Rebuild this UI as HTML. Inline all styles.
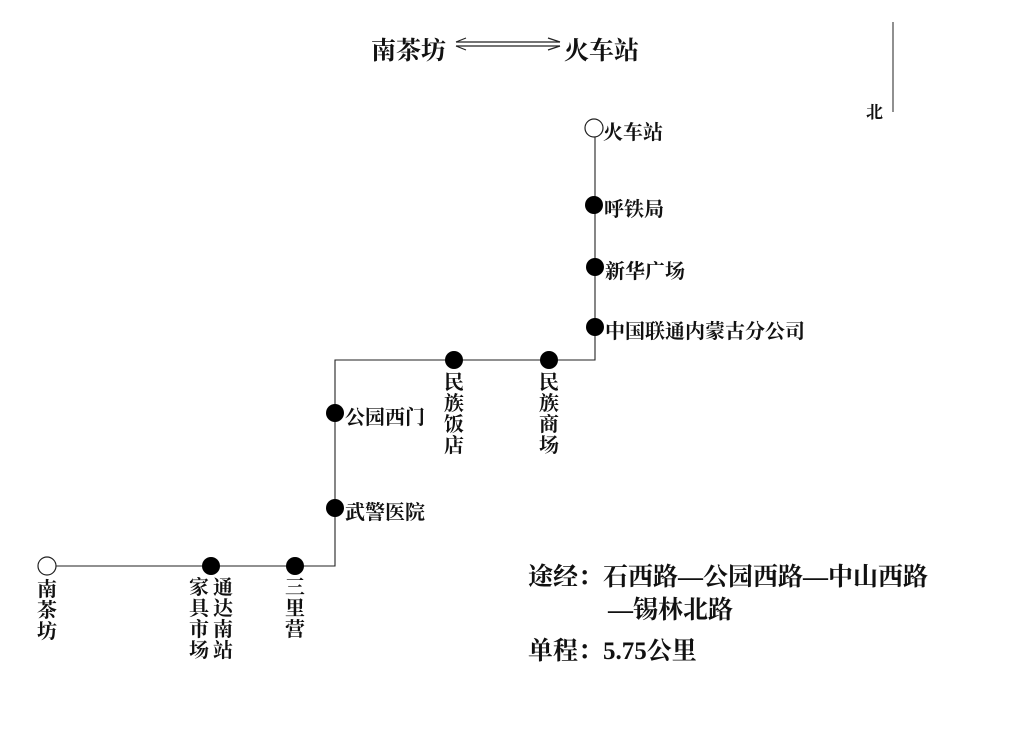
<!DOCTYPE html>
<html><head><meta charset="utf-8"><style>
html,body{margin:0;padding:0;background:#fff;}
body{width:1012px;height:745px;position:relative;overflow:hidden;font-family:"Liberation Serif","Noto Serif CJK SC","Noto Sans CJK SC",serif;color:#111;font-weight:bold;}
.t{position:absolute;white-space:nowrap;}
.l{font-size:20px;}
.v{position:absolute;width:22px;font-size:20px;line-height:21px;text-align:center;}
</style></head><body>
<svg width="1012" height="745" style="position:absolute;left:0;top:0">
<g stroke="#222" stroke-width="1.1" fill="none">
<polyline points="47,566 335,566 335,360 595,360 595,128"/>
<line x1="893" y1="22" x2="893" y2="112" stroke-width="1"/>
<line x1="456" y1="42" x2="560" y2="42" stroke-width="1.2"/>
<line x1="456" y1="46" x2="560" y2="46" stroke-width="1.2"/>
<polyline points="466,38 456,42" stroke-width="1.2"/>
<polyline points="466,50 456,46" stroke-width="1.2"/>
<polyline points="548,38 560,42" stroke-width="1.2"/>
<polyline points="548,50 560,46" stroke-width="1.2"/>
</g>
<g fill="#000">
<circle cx="211" cy="566" r="9"/><circle cx="295" cy="566" r="9"/>
<circle cx="335" cy="508" r="9"/><circle cx="335" cy="413" r="9"/>
<circle cx="454" cy="360" r="9"/><circle cx="549" cy="360" r="9"/>
<circle cx="595" cy="327" r="9"/><circle cx="595" cy="267" r="9"/><circle cx="594" cy="205" r="9"/>
</g>
<g fill="#fff" stroke="#222" stroke-width="1.2">
<circle cx="47" cy="566" r="9"/><circle cx="594" cy="128" r="9"/>
</g>
</svg>
<div class="t" style="left:371px;top:31px;font-size:25px;">南茶坊</div>
<div class="t" style="left:564px;top:31px;font-size:25px;">火车站</div>
<div class="t" style="left:866px;top:98px;font-size:17px;">北</div>
<div class="t l" style="left:603px;top:116px;">火车站</div>
<div class="t l" style="left:604px;top:193px;">呼铁局</div>
<div class="t l" style="left:605px;top:255px;">新华广场</div>
<div class="t l" style="left:605px;top:315px;">中国联通内蒙古分公司</div>
<div class="t l" style="left:345px;top:401px;">公园西门</div>
<div class="t l" style="left:345px;top:496px;">武警医院</div>
<div class="v" style="left:443px;top:373px;">民<br>族<br>饭<br>店</div>
<div class="v" style="left:538px;top:373px;">民<br>族<br>商<br>场</div>
<div class="v" style="left:36px;top:580px;">南<br>茶<br>坊</div>
<div class="v" style="left:188px;top:578px;">家<br>具<br>市<br>场</div>
<div class="v" style="left:212px;top:578px;">通<br>达<br>南<br>站</div>
<div class="v" style="left:284px;top:578px;">三<br>里<br>营</div>
<div class="t" style="left:528px;top:557px;font-size:25px;">途经：</div>
<div class="t" style="left:603px;top:557px;font-size:25px;">石西路—公园西路—中山西路</div>
<div class="t" style="left:608px;top:590px;font-size:25px;">—锡林北路</div>
<div class="t" style="left:528px;top:631px;font-size:25px;">单程：</div>
<div class="t" style="left:603px;top:631px;font-size:25px;">5.75公里</div>
</body></html>
